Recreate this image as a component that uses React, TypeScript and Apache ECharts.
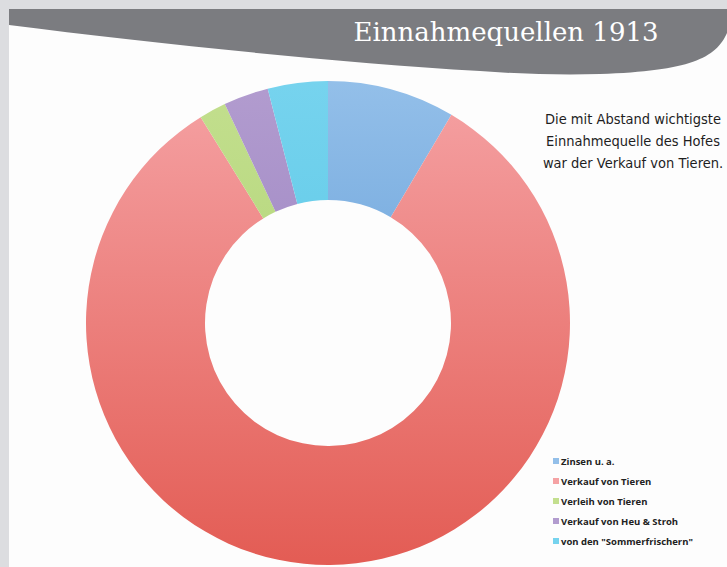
import React, { useEffect, useRef } from "react";
import * as echarts from "echarts";

const categories = [
  "Zinsen u. a.",
  "Verkauf von Tieren",
  "Verleih von Tieren",
  "Verkauf von Heu & Stroh",
  'von den "Sommerfrischern"',
];
const values = [8.5, 82.5, 1.8, 3.0, 4.0];
const gradientStops: [string, string][] = [
  ["#93bfe9", "#4f8fd0"],
  ["#f5a2a4", "#e35c54"],
  ["#c3df8e", "#a6ce6a"],
  ["#b29ccf", "#8f76ba"],
  ["#76d3ee", "#4cc2e2"],
];
const titleText = "Einnahmequellen 1913";
const noteLines = [
  "Die mit Abstand wichtigste",
  "Einnahmequelle des Hofes",
  "war der Verkauf von Tieren.",
];

let registered = false;
function ensureShapes() {
  if (registered) return;
  registered = true;
  const d =
    "M9 9 L727 9 L727 33 C716 58 690 71 600 74 C560 75 520 74 480 71 C330 62 150 43 9 25 Z";
  echarts.graphic.registerShape("banner", echarts.graphic.extendPath(d, {}) as any);
}

export default function App() {
  const ref = useRef<HTMLDivElement>(null);
  useEffect(() => {
    ensureShapes();
    const chart = echarts.init(ref.current!, undefined, { renderer: "svg" });
    const data = categories.map((name, i) => ({
      name,
      value: values[i],
      itemStyle: {
        color: new echarts.graphic.LinearGradient(
          0,
          82,
          0,
          565,
          [
            { offset: 0, color: gradientStops[i][0] },
            { offset: 1, color: gradientStops[i][1] },
          ],
          true
        ),
      },
    }));
    chart.setOption({
      animation: false,
      backgroundColor: "#dcdde0",
      graphic: [
        {
          type: "rect",
          shape: { x: 9, y: 9, width: 718, height: 558 },
          style: { fill: "#fdfdfd" },
          z: -10,
        },
        {
          type: "banner",
          x: 0,
          y: 0,
          style: { fill: "#7b7c80" },
          z: 10,
        },
        {
          type: "text",
          x: 506,
          y: 32,
          style: {
            text: titleText,
            fill: "#ffffff",
            font: "26px 'DejaVu Serif'",
            textAlign: "center",
            textVerticalAlign: "middle",
          },
          z: 11,
        },
        {
          type: "text",
          x: 633,
          y: 108,
          style: {
            text: noteLines.join("\n"),
            fill: "#1e1e1e",
            font: "14.5px 'Liberation Sans Narrow', 'DejaVu Sans Condensed', sans-serif",
            lineHeight: 22,
            textAlign: "center",
          },
          z: 11,
        },
      ],
      legend: {
        orient: "vertical",
        left: 548,
        top: 450,
        itemWidth: 6,
        itemHeight: 6,
        itemGap: 8,
        icon: "rect",
        selectedMode: false,
        textStyle: {
          color: "#222222",
          fontSize: 9.5,
          fontWeight: 700,
          fontFamily: "'Open Sans', sans-serif",
          lineHeight: 12,
          padding: [0, 0, 0, -3],
        },
        data: categories,
      },
      series: [
        {
          type: "pie",
          center: [328, 323],
          radius: [123, 242],
          startAngle: 90,
          clockwise: true,
          label: { show: false },
          labelLine: { show: false },
          emphasis: { disabled: true },
          silent: true,
          data,
        },
      ],
    });
    return () => chart.dispose();
  }, []);
  return (
    <div
      ref={ref}
      style={{ position: "fixed", left: 0, top: 0, width: 727, height: 567 }}
    />
  );
}
